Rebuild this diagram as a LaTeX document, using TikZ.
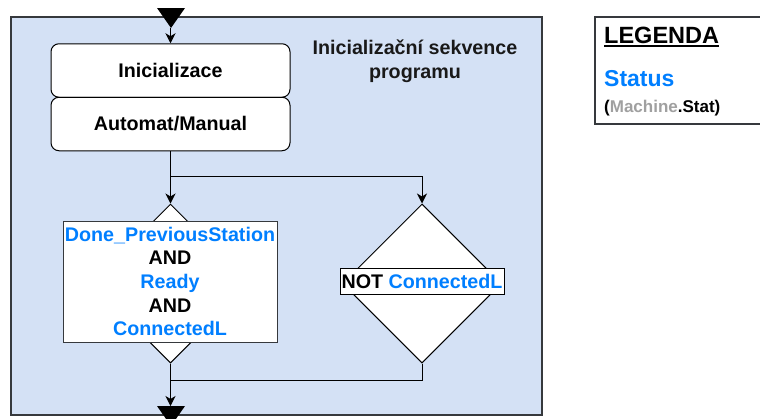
\documentclass[tikz,border=0pt]{standalone}
\usepackage{fontspec}
\setmainfont{Liberation Sans}
\usetikzlibrary{shapes.geometric,arrows.meta,calc}
\definecolor{cfill}{HTML}{D4E1F5}
\definecolor{cline}{HTML}{36393D}
\definecolor{vblue}{HTML}{007FFF}
\definecolor{vgray}{HTML}{A0A0A0}
\begin{document}
\begin{tikzpicture}[x=1pt,y=-1pt,
  font={\bfseries\fontsize{19.7}{23.6}\selectfont},
  arr/.style={-{Stealth[length=10pt,width=10pt,inset=3pt]}, line width=1pt},
  ln/.style={line width=1pt},
  rbox/.style={draw=black, line width=1pt, fill=white, rounded corners=8pt, minimum width=239pt, minimum height=53.5pt, inner sep=0pt},
  dia/.style={diamond, draw=black, line width=1pt, fill=white, minimum width=159pt, minimum height=159pt, inner sep=0pt, aspect=1},
  lbl/.style={draw=cline, line width=1pt, fill=white, inner sep=0pt, align=center},
  tri/.style={fill=black}
]
\useasboundingbox (0,0) rectangle (760,418);
% container
\node[draw=cline, line width=1.5pt, fill=cfill, minimum width=531pt, minimum height=398pt, inner sep=0pt] (cont) at (276.5,216) {};
\node[align=center, text=black!90] (title) at (415,61) {Inicializační sekvence\\programu};
% top triangle
\fill[tri] (157,8) -- (185,8) -- (171,28) -- cycle;
\coordinate (topin) at (170.5,28);
% boxes
\node[rbox] (init) at (170.5,70.5) {Inicializace};
\node[rbox] (auto) at (170.5,124) {Automat/Manual};
% diamonds
\node[dia] (d1) at (170.5,283.5) {};
\node[lbl, minimum width=214pt, minimum height=121pt] (t1) at (170,281.5)
  {\textcolor{vblue}{Done\_PreviousStation}\\AND\\\textcolor{vblue}{Ready}\\AND\\\textcolor{vblue}{ConnectedL}};
\node[dia] (d2) at (422,283.5) {};
\node[lbl, draw=black, minimum width=164pt, minimum height=26pt] (t2) at (422,281) {NOT \textcolor{vblue}{ConnectedL}};
% connectors
\coordinate (join) at (170.5,380);
\coordinate (botin) at (170.5,406);
\draw[arr] (topin) -- (init.north);
\draw[arr] (auto.south) -- (d1.north);
\draw[arr] (auto.south) |- ($(d2.north)+(0,-27)$) -- (d2.north);
\draw[ln] (d2.south) |- (join);
\draw[arr] (d1.south) -- (botin);
\fill[tri] (157,406) -- (185,406) -- (171,426) -- cycle;
% legend
\node[draw=cline, line width=1.5pt, fill=white, minimum width=175pt, minimum height=107pt, inner sep=0pt] (leg) at (682.5,70.5) {};
\node[anchor=base west, font={\bfseries\fontsize{23.5}{28}\selectfont}, inner sep=0pt] (legt) at (604,43.3) {LEGENDA};
\draw[line width=1.5pt] ($(legt.base west)+(0,2.8)$) -- ($(legt.base east)+(0,2.8)$);
\node[anchor=base west, font={\bfseries\fontsize{23}{28}\selectfont}, text=vblue, inner sep=0pt] (st) at (604,86.7) {Status};
\node[anchor=base west, font={\bfseries\fontsize{17}{20}\selectfont}, inner sep=0pt] (ms) at (604,112.3) {(\textcolor{vgray}{Machine}.Stat)};
\end{tikzpicture}
\end{document}
